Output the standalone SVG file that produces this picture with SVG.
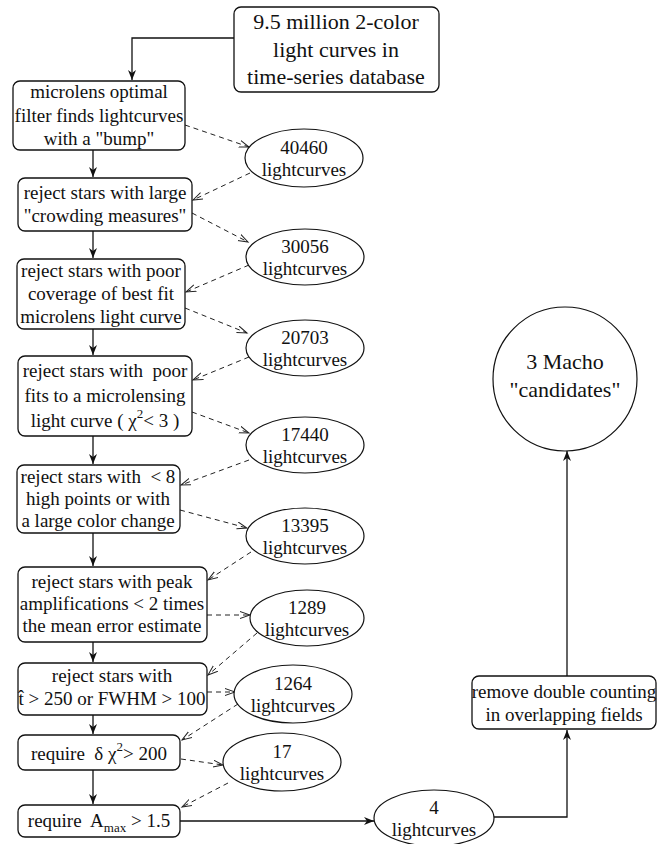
<svg xmlns="http://www.w3.org/2000/svg" width="666" height="844" viewBox="0 0 666 844" font-family="Liberation Serif, DejaVu Serif, serif">
<style>
text{font-family:"Liberation Serif","DejaVu Serif",serif;fill:#111;text-anchor:middle;white-space:pre}
.b{font-size:19px}
.big{font-size:22px}
.box{fill:#fff;stroke:#111;stroke-width:1.3}
.ell{fill:#fff;stroke:#111;stroke-width:1.2}
.sol{fill:none;stroke:#111;stroke-width:1.3}
.dash{fill:none;stroke:#222;stroke-width:1;stroke-dasharray:5 4}
.sm{font-size:13px}
</style>
<defs>
<marker id="a" markerUnits="userSpaceOnUse" markerWidth="12" markerHeight="10" refX="10" refY="4" orient="auto"><path d="M0,0 L10,4 L0,8 L3,4 z" fill="#111"/></marker>
<marker id="d" markerUnits="userSpaceOnUse" markerWidth="12" markerHeight="10" refX="10" refY="4" orient="auto"><path d="M0,0.5 L10,4 L0,7.5" fill="none" stroke="#222" stroke-width="1"/></marker>
</defs>
<rect width="666" height="844" fill="#fff"/>
<g id="connectors">
<path class="sol" d="M234,38 H132 V80" marker-end="url(#a)"/>
<path class="sol" d="M93,150 V177" marker-end="url(#a)"/>
<path class="sol" d="M93,231 V258" marker-end="url(#a)"/>
<path class="sol" d="M93,329 V355" marker-end="url(#a)"/>
<path class="sol" d="M93,436 V464" marker-end="url(#a)"/>
<path class="sol" d="M93,533 V566" marker-end="url(#a)"/>
<path class="sol" d="M93,642 V662" marker-end="url(#a)"/>
<path class="sol" d="M93,715 V734" marker-end="url(#a)"/>
<path class="sol" d="M93,770 V804" marker-end="url(#a)"/>
<path class="sol" d="M180,821 H374" marker-end="url(#a)"/>
<path class="sol" d="M494,817 H567 V730" marker-end="url(#a)"/>
<path class="sol" d="M567,676 V451" marker-end="url(#a)"/>
<path class="dash" d="M185,125 L249,147" marker-end="url(#d)"/>
<path class="dash" d="M250,173 L193,200" marker-end="url(#d)"/>
<path class="dash" d="M192,213 L248,242" marker-end="url(#d)"/>
<path class="dash" d="M249,265 L186,292" marker-end="url(#d)"/>
<path class="dash" d="M185,308 L247,333" marker-end="url(#d)"/>
<path class="dash" d="M249,357 L193,380" marker-end="url(#d)"/>
<path class="dash" d="M192,412 L249,433" marker-end="url(#d)"/>
<path class="dash" d="M249,460 L181,485" marker-end="url(#d)"/>
<path class="dash" d="M180,510 L247,528" marker-end="url(#d)"/>
<path class="dash" d="M251,552 L208,580" marker-end="url(#d)"/>
<path class="dash" d="M207,615 L250,615" marker-end="url(#d)"/>
<path class="dash" d="M257,633 L208,675" marker-end="url(#d)"/>
<path class="dash" d="M207,692 L235,692" marker-end="url(#d)"/>
<path class="dash" d="M238,704 L182,740" marker-end="url(#d)"/>
<path class="dash" d="M181,759 L223,765" marker-end="url(#d)"/>
<path class="dash" d="M228,783 L182,807" marker-end="url(#d)"/>
</g>
<g id="n0"><rect class="box" x="234" y="7" width="205" height="85" rx="7"/>
<text class="big" x="336" y="29">9.5 million 2-color</text>
<text class="big" x="336" y="57">light curves in</text>
<text class="big" x="336" y="84">time-series database</text></g>
<g id="n1"><rect class="box" x="13" y="81" width="172" height="69" rx="7"/>
<text class="b" x="99" y="98">microlens optimal</text>
<text class="b" x="99" y="122">filter finds lightcurves</text>
<text class="b" x="99" y="145">with a "bump"</text></g>
<g id="n2"><rect class="box" x="18" y="178" width="174" height="53" rx="7"/>
<text class="b" x="105" y="199">reject stars with large</text>
<text class="b" x="105" y="222">"crowding measures"</text></g>
<g id="n3"><rect class="box" x="17" y="259" width="168" height="70" rx="7"/>
<text class="b" x="101" y="277">reject stars with poor</text>
<text class="b" x="101" y="300">coverage of best fit</text>
<text class="b" x="101" y="323">microlens light curve</text></g>
<g id="n4"><rect class="box" x="18" y="356" width="174" height="80" rx="7"/>
<text class="b" x="105" y="377">reject stars with  poor</text>
<text class="b" x="105" y="402">fits to a microlensing</text>
<text class="b" x="105" y="427">light curve ( χ<tspan class="sm" dy="-9">2</tspan><tspan dy="9">&lt; 3 )</tspan></text></g>
<g id="n5"><rect class="box" x="17" y="465" width="163" height="68" rx="7"/>
<text class="b" x="98" y="483">reject stars with  &lt; 8</text>
<text class="b" x="98" y="505">high points or with</text>
<text class="b" x="98" y="527">a large color change</text></g>
<g id="n6"><rect class="box" x="18" y="567" width="189" height="75" rx="7"/>
<text class="b" x="112" y="588">reject stars with peak</text>
<text class="b" x="112" y="610">amplifications &lt; 2 times</text>
<text class="b" x="112" y="632">the mean error estimate</text></g>
<g id="n7"><rect class="box" x="18" y="663" width="189" height="52" rx="7"/>
<text class="b" x="112" y="682">reject stars with</text>
<text class="b" x="112" y="705">t̂ &gt; 250 or FWHM &gt; 100</text></g>
<g id="n8"><rect class="box" x="18" y="735" width="162" height="35" rx="7"/>
<text class="b" x="99" y="760">require  δ χ<tspan class="sm" dy="-9">2</tspan><tspan dy="9">&gt; 200</tspan></text></g>
<g id="n9"><rect class="box" x="18" y="805" width="162" height="32" rx="7"/>
<text class="b" x="99" y="827">require  A<tspan class="sm" dy="5">max</tspan><tspan dy="-5"> &gt; 1.5</tspan></text></g>
<g id="e1"><ellipse class="ell" cx="304" cy="158" rx="59" ry="29"/><text class="b" x="304" y="154">40460</text><text class="b" x="304" y="176">lightcurves</text></g>
<g id="e2"><ellipse class="ell" cx="305" cy="257" rx="59" ry="28"/><text class="b" x="305" y="253">30056</text><text class="b" x="305" y="275">lightcurves</text></g>
<g id="e3"><ellipse class="ell" cx="305" cy="348" rx="59" ry="28"/><text class="b" x="305" y="344">20703</text><text class="b" x="305" y="366">lightcurves</text></g>
<g id="e4"><ellipse class="ell" cx="305" cy="445" rx="59" ry="28"/><text class="b" x="305" y="441">17440</text><text class="b" x="305" y="463">lightcurves</text></g>
<g id="e5"><ellipse class="ell" cx="305" cy="536" rx="59" ry="28"/><text class="b" x="305" y="532">13395</text><text class="b" x="305" y="554">lightcurves</text></g>
<g id="e6"><ellipse class="ell" cx="307" cy="618" rx="57" ry="28"/><text class="b" x="307" y="614">1289</text><text class="b" x="307" y="636">lightcurves</text></g>
<g id="e7"><ellipse class="ell" cx="293" cy="694" rx="59" ry="29"/><text class="b" x="293" y="690">1264</text><text class="b" x="293" y="712">lightcurves</text></g>
<g id="e8"><ellipse class="ell" cx="282" cy="762" rx="59" ry="29"/><text class="b" x="282" y="758">17</text><text class="b" x="282" y="780">lightcurves</text></g>
<g id="e9"><ellipse class="ell" cx="434" cy="818" rx="60" ry="28"/><text class="b" x="434" y="814">4</text><text class="b" x="434" y="836">lightcurves</text></g>
<g id="n10"><rect class="box" x="472" y="676" width="184" height="53" rx="7"/>
<text class="b" x="564" y="698">remove double counting</text>
<text class="b" x="564" y="721">in overlapping fields</text></g>
<g id="n11"><circle class="ell" cx="565" cy="379" r="72"/>
<text class="big" x="565" y="369">3 Macho</text>
<text class="big" x="565" y="397">"candidates"</text></g>
</svg>
